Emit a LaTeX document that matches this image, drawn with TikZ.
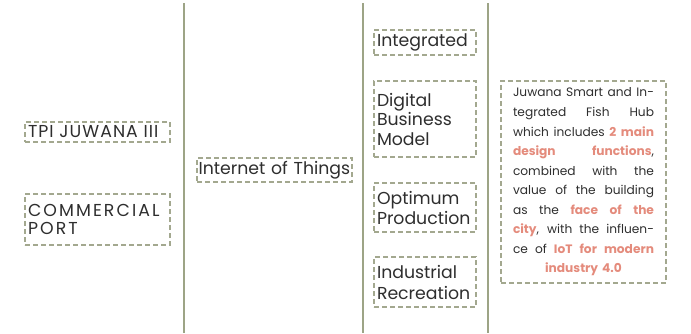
\documentclass[tikz,border=0pt]{standalone}
\usepackage{fontspec}
\setmainfont{Poppins}
\usetikzlibrary{positioning}
\definecolor{rulecol}{HTML}{9DA486}
\definecolor{dashcol}{HTML}{A3A88F}
\definecolor{txtcol}{HTML}{2E2E2E}
\definecolor{hilite}{HTML}{E48B7C}
\newcommand{\hl}[1]{\textcolor{hilite}{\bfseries #1}}
\newcommand{\jline}[1]{\hbox to \hsize{\spaceskip=0.25em plus 1fil\relax #1}\par}
\begin{document}
\begin{tikzpicture}[x=1pt,y=-1pt,
  dbox/.style={draw=dashcol, line width=1.4pt, dash pattern=on 5pt off 3pt,
    text=txtcol, font=\fontsize{17.3}{19.5}\selectfont, align=left, inner xsep=3pt, inner ysep=0pt},
  colrule/.style={draw=rulecol, line width=2pt}]
\useasboundingbox (0,0) rectangle (691,333);
% column rules
\coordinate (r1t) at (184,3); \coordinate (r1b) at (184,333);
\coordinate (r2t) at (363,3); \coordinate (r2b) at (363,333);
\coordinate (r3t) at (488,3); \coordinate (r3b) at (488,333);
\draw[colrule] (r1t) -- (r1b);
\draw[colrule] (r2t) -- (r2b);
\draw[colrule] (r3t) -- (r3b);
% column 1
\node[dbox, minimum width=145pt, minimum height=20pt, text width=139pt] (tpi) at (97.5,132) {\addfontfeature{LetterSpace=6}TPI JUWANA III};
\node[dbox, minimum width=145pt, minimum height=51pt, text width=139pt, font=\fontsize{17.3}{18}\selectfont] (port) at (97.5,219.5) {\addfontfeature{LetterSpace=12}COMMERCIAL\\PORT};
% column 2
\node[dbox, minimum width=155pt, minimum height=24pt, text width=154pt, inner xsep=0.5pt] (iot) at (274.5,170) {\hspace*{1pt}Internet of Things};
% column 3
\node[dbox, minimum width=102pt, minimum height=25pt, text width=96pt] (integ) at (425,42.5) {Integrated};
\node[dbox, minimum width=102pt, minimum height=76pt, text width=96pt] (digi) at (425,119) {Digital\\Business\\Model};
\node[dbox, minimum width=102pt, minimum height=49pt, text width=96pt, font=\fontsize{17.3}{20}\selectfont] (opti) at (425,207.5) {Optimum\\Production};
\node[dbox, minimum width=102pt, minimum height=50pt, text width=96pt, font=\fontsize{17.3}{21}\selectfont] (indu) at (425,282) {Industrial\\Recreation};
% column 4
\node[dbox, minimum width=165pt, minimum height=202pt, text width=141pt, inner xsep=12pt,
  font=\fontsize{12.2}{19.56}\selectfont] (hub) at (583.5,182) {%
\jline{Juwana Smart and In-}%
\jline{tegrated Fish Hub}%
\jline{which includes \hl{2 main}}%
\jline{\hl{design functions},}%
\jline{combined with the}%
\jline{value of the building}%
\jline{as the \hl{face of the}}%
\jline{\hl{city}, with the influen-}%
\jline{ce of \hl{IoT for modern}}%
\hbox to \hsize{\hfil\hl{industry 4.0}\hfil}};
\end{tikzpicture}
\end{document}
